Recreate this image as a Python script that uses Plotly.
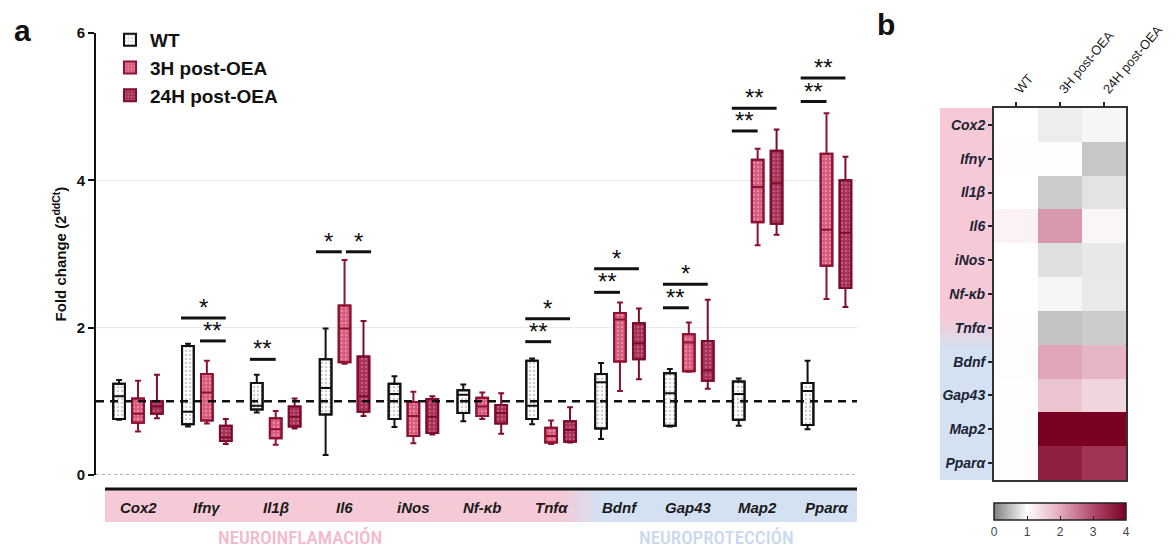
import plotly.graph_objects as go

# ---- data -------------------------------------------------------------
genes = ["Cox2", "Ifnγ", "Il1β", "Il6", "iNos", "Nf-κb", "Tnfα",
         "Bdnf", "Gap43", "Map2", "Pparα"]
groups = ["WT", "3H post-OEA", "24H post-OEA"]

wt_lower = [0.75, 0.66, 0.85, 0.27, 0.65, 0.73, 0.69, 0.49, 0.66, 0.67, 0.62]
wt_q1 = [0.76, 0.69, 0.89, 0.82, 0.76, 0.84, 0.76, 0.63, 0.67, 0.75, 0.68]
wt_median = [1.07, 0.86, 0.94, 1.18, 1.10, 1.09, 0.94, 1.26, 1.11, 1.10, 1.14]
wt_q3 = [1.24, 1.75, 1.25, 1.57, 1.24, 1.15, 1.55, 1.37, 1.38, 1.27, 1.25]
wt_upper = [1.29, 1.78, 1.36, 1.99, 1.34, 1.23, 1.58, 1.52, 1.44, 1.31, 1.55]

h3_lower = [0.59, 0.70, 0.41, 1.51, 0.43, 0.76, 0.42, 1.14, 1.40, 3.12, 2.39]
h3_q1 = [0.71, 0.74, 0.50, 1.53, 0.53, 0.80, 0.44, 1.54, 1.41, 3.43, 2.84]
h3_median = [0.83, 1.12, 0.62, 1.99, 0.80, 0.93, 0.53, 2.11, 1.80, 3.91, 3.33]
h3_q3 = [1.04, 1.37, 0.77, 2.30, 0.99, 1.05, 0.64, 2.20, 1.91, 4.28, 4.36]
h3_upper = [1.28, 1.55, 0.87, 2.92, 1.13, 1.12, 0.74, 2.34, 2.07, 4.43, 4.91]

h24_lower = [0.77, 0.42, 0.63, 0.80, 0.55, 0.56, 0.44, 1.30, 1.17, 3.26, 2.28]
h24_q1 = [0.83, 0.46, 0.66, 0.86, 0.57, 0.70, 0.45, 1.57, 1.28, 3.41, 2.54]
h24_median = [0.93, 0.51, 0.79, 1.07, 0.79, 0.84, 0.61, 1.79, 1.42, 3.96, 3.29]
h24_q3 = [1.00, 0.67, 0.93, 1.61, 1.03, 0.95, 0.73, 2.06, 1.82, 4.40, 4.00]
h24_upper = [1.36, 0.76, 1.04, 2.09, 1.07, 1.11, 0.92, 2.26, 2.38, 4.69, 4.32]

# significance: (gene index, group from, group to, bar height, label)
comparisons = [
    (1, 0, 2, 2.13, "*"), (1, 1, 2, 1.82, "**"),
    (2, 0, 1, 1.57, "**"),
    (3, 0, 1, 3.03, "*"), (3, 1, 2, 3.03, "*"),
    (6, 0, 2, 2.12, "*"), (6, 0, 1, 1.81, "**"),
    (7, 0, 2, 2.80, "*"), (7, 0, 1, 2.48, "**"),
    (8, 0, 2, 2.59, "*"), (8, 0, 1, 2.27, "**"),
    (9, 0, 2, 4.98, "**"), (9, 0, 1, 4.67, "**"),
    (10, 0, 2, 5.39, "**"), (10, 0, 1, 5.07, "**"),
]

# heatmap of mean fold change (rows = genes, columns = groups)
heat_wt = [1.00, 1.04, 1.00, 1.15, 1.00, 1.00, 1.03, 1.02, 1.01, 1.02, 1.02]
heat_3h = [0.86, 1.03, 0.59, 2.20, 0.76, 0.92, 0.53, 2.05, 1.70, 4.00, 3.60]
heat_24h = [0.93, 0.56, 0.78, 1.12, 0.82, 0.83, 0.60, 1.88, 1.50, 4.00, 3.30]

y_ticks = [0, 2, 4, 6]
cbar_ticks = [0, 1, 2, 3, 4]

# ---- styling ----------------------------------------------------------
W, H = 1176, 550
FONT = "Arial, Liberation Sans, sans-serif"
NARROW = "Liberation Sans Narrow, Arial Narrow, Roboto Condensed, Arial, sans-serif"


def xp(px):
    return px / W


def yp(py):
    return 1 - py / H


offsets = [-0.275, 0.0, 0.275]
box_w = 0.17
series = [
    dict(name=groups[0], lower=wt_lower, q1=wt_q1, med=wt_median, q3=wt_q3,
         upper=wt_upper, line="#111111", fill="#ffffff", dot="#9a9a9a"),
    dict(name=groups[1], lower=h3_lower, q1=h3_q1, med=h3_median, q3=h3_q3,
         upper=h3_upper, line="#8c1232", fill="#d65a7c", dot="#f2b7c6"),
    dict(name=groups[2], lower=h24_lower, q1=h24_q1, med=h24_median, q3=h24_q3,
         upper=h24_upper, line="#7c0c2c", fill="#a52f55", dot="#d98aa2"),
]

fig = go.Figure()

for k, s in enumerate(series):
    xs = [i + offsets[k] for i in range(len(genes))]
    # dotted box body
    fig.add_trace(go.Bar(
        x=xs, base=s["q1"], y=[b - a for a, b in zip(s["q1"], s["q3"])],
        width=box_w, name=s["name"], showlegend=True, hoverinfo="skip",
        marker=dict(color=s["fill"], line=dict(color=s["line"], width=2),
                    pattern=dict(shape=".", fgcolor=s["dot"], bgcolor=s["fill"],
                                 size=4, solidity=0.3)),
        xaxis="x", yaxis="y",
    ))
    # outline, median and whiskers
    fig.add_trace(go.Box(
        x=xs, q1=s["q1"], median=s["med"], q3=s["q3"],
        lowerfence=s["lower"], upperfence=s["upper"],
        width=box_w, whiskerwidth=0.5, boxpoints=False,
        line=dict(color=s["line"], width=2), fillcolor="rgba(0,0,0,0)",
        showlegend=False, hoverinfo="skip", xaxis="x", yaxis="y",
    ))

# heatmap
heat_z = [[a, b, c] for a, b, c in zip(heat_wt, heat_3h, heat_24h)]
fig.add_trace(go.Heatmap(
    z=heat_z, x=groups, y=genes, xaxis="x2", yaxis="y2",
    zmin=0, zmax=4,
    colorscale=[[0.0, "#7f7f7f"], [0.25, "#ffffff"], [0.5, "#e2abbb"],
                [0.75, "#b24a6b"], [1.0, "#7a0022"]],
    colorbar=dict(orientation="h", x=xp(1060), xanchor="center",
                  y=yp(503), yanchor="top", len=132, lenmode="pixels",
                  thickness=17, outlinewidth=1.5, outlinecolor="#222",
                  tickvals=cbar_ticks, ticks="inside", ticklen=4,
                  tickcolor="#222", tickfont=dict(family=FONT, size=12, color="#444"),
                  xpad=0, ypad=0),
    hoverinfo="skip",
))

shapes = []
annotations = []

# reference lines of the box panel
x0_px, x1_px = 96, 857
for gv in (2, 4):
    shapes.append(dict(type="line", xref="paper", yref="y", x0=xp(x0_px), x1=xp(x1_px),
                       y0=gv, y1=gv, line=dict(color="#e6e6e6", width=1), layer="below"))
shapes.append(dict(type="line", xref="paper", yref="y", x0=xp(x0_px), x1=xp(x1_px),
                   y0=0, y1=0, line=dict(color="#9a9a9a", width=1.5, dash="dot")))
shapes.append(dict(type="line", xref="paper", yref="y", x0=xp(x0_px), x1=xp(x1_px),
                   y0=1, y1=1, line=dict(color="#111111", width=2.5, dash="8px,6px")))

# category band beneath the box panel
band_top, band_bot = 490, 522
pink = (246, 201, 214)
blue = (212, 225, 243)


def mix(c1, c2, t):
    return "rgb(%d,%d,%d)" % tuple(round(a + (b - a) * t) for a, b in zip(c1, c2))


shapes.append(dict(type="rect", xref="paper", yref="paper", x0=xp(105), x1=xp(560),
                   y0=yp(band_bot), y1=yp(band_top), fillcolor=mix(pink, blue, 0),
                   line=dict(width=0), layer="below"))
steps = 10
for j in range(steps):
    a = 560 + j * 40 / steps
    shapes.append(dict(type="rect", xref="paper", yref="paper", x0=xp(a), x1=xp(a + 4.5),
                       y0=yp(band_bot), y1=yp(band_top),
                       fillcolor=mix(pink, blue, (j + 0.5) / steps),
                       line=dict(width=0), layer="below"))
shapes.append(dict(type="rect", xref="paper", yref="paper", x0=xp(600), x1=xp(857),
                   y0=yp(band_bot), y1=yp(band_top), fillcolor=mix(pink, blue, 1),
                   line=dict(width=0), layer="below"))
shapes.append(dict(type="line", xref="paper", yref="paper", x0=xp(105), x1=xp(857),
                   y0=yp(489), y1=yp(489), line=dict(color="#111111", width=3)))

for i, g in enumerate(genes):
    annotations.append(dict(x=i, xref="x", y=yp(507), yref="paper", text=g,
                            showarrow=False, xanchor="center", yanchor="middle",
                            font=dict(family=FONT, size=15, color="#1a1a1a",
                                      weight="bold", style="italic")))

annotations.append(dict(x=xp(300), y=yp(537), xref="paper", yref="paper",
                        text="NEUROINFLAMACIÓN", showarrow=False,
                        xanchor="center", yanchor="middle",
                        font=dict(family=NARROW, size=19, color="#f4b8c9", weight=500)))
annotations.append(dict(x=xp(716), y=yp(537), xref="paper", yref="paper",
                        text="NEUROPROTECCIÓN", showarrow=False,
                        xanchor="center", yanchor="middle",
                        font=dict(family=NARROW, size=19, color="#c9d8ef", weight=500)))

# significance bars
for gi, a, b, h, lab in comparisons:
    shared = [c for c in comparisons if c[0] == gi and c[3] == h and c != (gi, a, b, h, lab)]
    x_start = gi + offsets[a] - 0.1
    x_end = gi + offsets[b]
    if shared:
        if any(c[1] == b for c in shared):
            x_start, x_end = gi + offsets[a] - 0.14, gi + offsets[b] - 0.04
        else:
            x_start, x_end = gi + offsets[a] + 0.02, gi + offsets[b] + 0.11
    shapes.append(dict(type="line", xref="x", yref="y", x0=x_start, x1=x_end,
                       y0=h, y1=h, line=dict(color="#111111", width=3)))
    annotations.append(dict(x=(x_start + x_end) / 2, xref="x", y=h, yref="y",
                            text=lab, showarrow=False, xanchor="center",
                            yanchor="bottom", yshift=-5,
                            font=dict(family=FONT, size=24, color="#111111")))

# label background of the heatmap rows
hm_top, hm_bot = 108, 480
shapes.append(dict(type="rect", xref="paper", yref="paper", x0=xp(940), x1=xp(994),
                   y0=yp(318), y1=yp(hm_top), fillcolor=mix(pink, blue, 0),
                   line=dict(width=0), layer="below"))
for j in range(steps):
    a = 318 + j * 32 / steps
    shapes.append(dict(type="rect", xref="paper", yref="paper", x0=xp(940), x1=xp(994),
                       y0=yp(a + 3.7), y1=yp(a),
                       fillcolor=mix(pink, blue, (j + 0.5) / steps),
                       line=dict(width=0), layer="below"))
shapes.append(dict(type="rect", xref="paper", yref="paper", x0=xp(940), x1=xp(994),
                   y0=yp(hm_bot), y1=yp(350), fillcolor=mix(pink, blue, 1),
                   line=dict(width=0), layer="below"))

# panel letters
annotations.append(dict(x=xp(22), y=yp(30), xref="paper", yref="paper", text="a",
                        showarrow=False, xanchor="center", yanchor="middle",
                        font=dict(family=FONT, size=30, color="#111", weight="bold")))
annotations.append(dict(x=xp(886), y=yp(25), xref="paper", yref="paper", text="b",
                        showarrow=False, xanchor="center", yanchor="middle",
                        font=dict(family=FONT, size=30, color="#111", weight="bold")))

fig.update_layout(
    width=W, height=H, margin=dict(l=0, r=0, t=0, b=0, autoexpand=False),
    paper_bgcolor="white", plot_bgcolor="rgba(0,0,0,0)",
    barmode="overlay", boxmode="overlay",
    font=dict(family=FONT, color="#111"),
    showlegend=True,
    legend=dict(x=xp(110), y=yp(21), xanchor="left", yanchor="top",
                bgcolor="rgba(0,0,0,0)", tracegroupgap=0, itemwidth=30,
                font=dict(family=FONT, size=19, color="#111", weight="bold")),
    xaxis=dict(domain=[xp(96), xp(857)], range=[-0.61, 10.443],
               showticklabels=False, showgrid=False, zeroline=False,
               showline=False, ticks=""),
    yaxis=dict(domain=[yp(475), yp(33)], range=[0, 6], tickvals=y_ticks,
               showgrid=False, zeroline=False, showline=True, linecolor="#111",
               linewidth=2, ticks="outside", ticklen=6, tickwidth=2, tickcolor="#111",
               tickfont=dict(family=FONT, size=15, color="#111", weight="bold"),
               title=dict(text="Fold change (2<sup>ddCt</sup>)", standoff=6,
                          font=dict(family=FONT, size=15, color="#111", weight="bold"))),
    xaxis2=dict(domain=[xp(994), xp(1126)], anchor="y2", side="top",
                tickangle=-50, ticks="outside", ticklen=4, tickwidth=1.5,
                tickcolor="#222", showline=True, mirror=True, linecolor="#333",
                linewidth=2, showgrid=False, zeroline=False,
                tickfont=dict(family=FONT, size=13, color="#222")),
    yaxis2=dict(domain=[yp(hm_bot), yp(hm_top)], anchor="x2", autorange="reversed",
                ticks="outside", ticklen=4, tickwidth=1.5, tickcolor="#222",
                showline=True, mirror=True, linecolor="#333", linewidth=2,
                showgrid=False, zeroline=False,
                tickfont=dict(family=FONT, size=14, color="#1c2333",
                              weight="bold", style="italic")),
    shapes=shapes, annotations=annotations,
)

fig.write_html("out.html")
